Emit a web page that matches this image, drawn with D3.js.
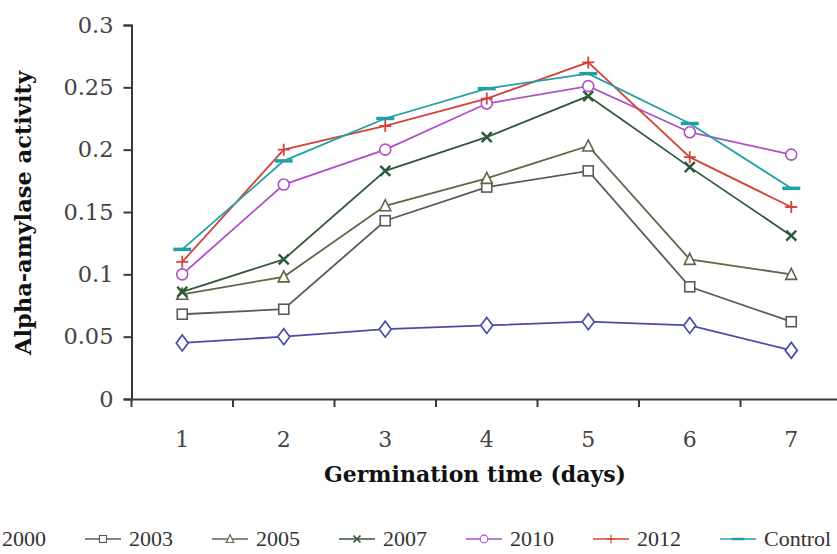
<!DOCTYPE html>
<html>
<head>
<meta charset="utf-8">
<script src="https://cdnjs.cloudflare.com/ajax/libs/d3/7.8.5/d3.min.js"></script>
<style>
  body { margin: 0; background: #fff; }
  svg { display: block; }
</style>
</head>
<body>
<div id="chart"></div>
<script>
// data
var days = [1, 2, 3, 4, 5, 6, 7];
var yTicks = [0, 0.05, 0.1, 0.15, 0.2, 0.25, 0.3];
var seriesNames = ["2000", "2003", "2005", "2007", "2010", "2012", "Control"];
var v2000    = [0.045, 0.050, 0.056, 0.059, 0.062, 0.059, 0.039];
var v2003    = [0.068, 0.072, 0.143, 0.170, 0.183, 0.090, 0.062];
var v2005    = [0.084, 0.098, 0.155, 0.177, 0.203, 0.112, 0.100];
var v2007    = [0.086, 0.112, 0.183, 0.210, 0.243, 0.186, 0.131];
var v2010    = [0.100, 0.172, 0.200, 0.237, 0.251, 0.214, 0.196];
var v2012    = [0.110, 0.200, 0.219, 0.241, 0.270, 0.194, 0.154];
var vControl = [0.120, 0.191, 0.225, 0.249, 0.261, 0.221, 0.169];

var values = [v2000, v2003, v2005, v2007, v2010, v2012, vControl];
var colors = ["#4a4aa8", "#5a5a5a", "#5c6844", "#2f5a3a", "#b04fc6", "#d5433a", "#20a0a6"];
var shapes = ["diamond", "square", "triangle", "times", "circle", "plus", "dash"];

var W = 837, H = 554;

var svg = d3.select("#chart").append("svg")
    .attr("width", W)
    .attr("height", H);

var x = d3.scaleBand()
    .domain(days)
    .range([131.5, 842])
    .padding(0);

var y = d3.scaleLinear()
    .domain([0, 0.3])
    .range([399, 25]);

var axisColor = "#3a3a3a";
var tickFont = "'DejaVu Serif', serif";

// y axis
var yAxis = svg.append("g")
    .attr("transform", "translate(131.5,0)")
    .call(d3.axisLeft(y).tickValues(yTicks).tickSize(8).tickPadding(10)
        .tickFormat(function(d) { return d === 0 ? "0" : String(+d.toFixed(2)); }));
yAxis.select(".domain").attr("stroke", axisColor).attr("stroke-width", 2);
yAxis.selectAll(".tick line").attr("stroke", axisColor).attr("stroke-width", 2);
yAxis.selectAll(".tick text")
    .attr("fill", "#444")
    .style("font-family", tickFont)
    .style("font-size", "22.5px");

// x axis: labels at band centres, tick marks at band edges
var xAxis = svg.append("g")
    .attr("transform", "translate(0,399)")
    .call(d3.axisBottom(x).tickSize(0).tickPadding(32));
xAxis.select(".domain").attr("stroke", axisColor).attr("stroke-width", 2);
xAxis.selectAll(".tick text")
    .attr("fill", "#444")
    .style("font-family", tickFont)
    .style("font-size", "22px");

xAxis.selectAll(".edge")
    .data(days)
    .enter().append("line")
    .attr("class", "edge")
    .attr("x1", function(d) { return x(d); })
    .attr("x2", function(d) { return x(d); })
    .attr("y1", 0)
    .attr("y2", 8)
    .attr("stroke", axisColor)
    .attr("stroke-width", 2);

// axis titles
svg.append("text")
    .attr("x", 475)
    .attr("y", 482)
    .attr("text-anchor", "middle")
    .attr("textLength", 302)
    .attr("lengthAdjust", "spacingAndGlyphs")
    .style("font-family", tickFont)
    .style("font-weight", "bold")
    .style("font-size", "22px")
    .attr("fill", "#111")
    .text("Germination time (days)");

svg.append("text")
    .attr("transform", "translate(31,213) rotate(-90)")
    .attr("text-anchor", "middle")
    .attr("textLength", 284)
    .attr("lengthAdjust", "spacingAndGlyphs")
    .style("font-family", tickFont)
    .style("font-weight", "bold")
    .style("font-size", "23px")
    .attr("fill", "#111")
    .text("Alpha-amylase activity");

// marker drawing
function drawMarker(g, shape, color) {
    if (shape === "diamond") {
        g.append("path").attr("d", "M0,-8L6,0L0,8L-6,0Z")
            .attr("fill", "#fff").attr("stroke", color).attr("stroke-width", 1.7);
    } else if (shape === "square") {
        g.append("rect").attr("x", -5).attr("y", -5).attr("width", 10).attr("height", 10)
            .attr("fill", "#fff").attr("stroke", color).attr("stroke-width", 1.6);
    } else if (shape === "triangle") {
        g.append("path").attr("d", "M0,-6L5.5,5L-5.5,5Z")
            .attr("fill", "#fff").attr("stroke", color).attr("stroke-width", 1.6);
    } else if (shape === "times") {
        g.append("path").attr("d", "M-5,-5L5,5M5,-5L-5,5")
            .attr("fill", "none").attr("stroke", color).attr("stroke-width", 2.4);
    } else if (shape === "circle") {
        g.append("circle").attr("r", 5.5)
            .attr("fill", "#fff").attr("stroke", color).attr("stroke-width", 1.6);
    } else if (shape === "plus") {
        g.append("path").attr("d", "M-6,0L6,0M0,-6L0,6")
            .attr("fill", "none").attr("stroke", color).attr("stroke-width", 1.8);
    } else if (shape === "dash") {
        g.append("path").attr("d", "M-9,0L9,0")
            .attr("fill", "none").attr("stroke", color).attr("stroke-width", 3.5);
    }
}

var line = d3.line()
    .x(function(d, i) { return x(days[i]) + x.bandwidth() / 2; })
    .y(function(d) { return y(d); });

var series = svg.selectAll(".series")
    .data(values)
    .enter().append("g")
    .attr("class", "series");

series.append("path")
    .attr("d", function(d) { return line(d); })
    .attr("fill", "none")
    .attr("stroke", function(d, i) { return colors[i]; })
    .attr("stroke-width", 1.8);

series.each(function(d, i) {
    var g = d3.select(this);
    d.forEach(function(v, j) {
        var m = g.append("g")
            .attr("transform", "translate(" + (x(days[j]) + x.bandwidth() / 2) + "," + y(v) + ")");
        drawMarker(m, shapes[i], colors[i]);
    });
});

// legend (first symbol falls off the left edge as in the picture)
var legend = svg.append("g").attr("transform", "translate(0,539)");
var item = legend.selectAll(".item")
    .data(seriesNames)
    .enter().append("g")
    .attr("class", "item")
    .attr("transform", function(d, i) { return "translate(" + (2 + i * 127) + ",0)"; });

item.append("line")
    .attr("x1", -44).attr("x2", -8)
    .attr("y1", 0).attr("y2", 0)
    .attr("stroke", function(d, i) { return colors[i]; })
    .attr("stroke-width", 1.6);

item.each(function(d, i) {
    var m = d3.select(this).append("g")
        .attr("transform", "translate(-26,0) scale(0.7)");
    drawMarker(m, shapes[i], colors[i]);
});

item.append("text")
    .attr("x", 0)
    .attr("y", 7)
    .attr("fill", "#333")
    .style("font-family", "'Liberation Serif', serif")
    .style("font-size", "22px")
    .text(function(d) { return d; });
</script>
</body>
</html>
